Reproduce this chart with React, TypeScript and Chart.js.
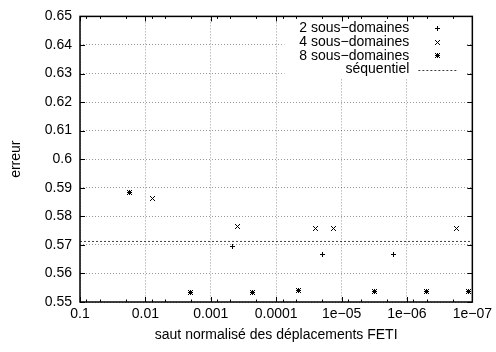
import React, { useEffect, useRef } from 'react';
import { Chart, registerables } from 'chart.js';

Chart.register(...registerables);

const FONT = '"Liberation Sans", Arial, Helvetica, sans-serif';

// Normalized FETI displacement jump (x) against error (y) for each decomposition
const jump2 = [4.6e-4, 1.95e-5, 1.62e-6];
const err2 = [0.5694, 0.5667, 0.5667];
const jump4 = [7.9e-3, 3.85e-4, 2.53e-5, 1.33e-5, 1.75e-7];
const err4 = [0.5864, 0.5764, 0.5758, 0.5758, 0.5758];
const jump8 = [1.73e-2, 2.07e-3, 2.27e-4, 4.6e-5, 3.13e-6, 5.1e-7, 1.13e-7];
const err8 = [0.5885, 0.5534, 0.5533, 0.5539, 0.5537, 0.5537, 0.5537];
const sequentialError = 0.5712;

const seriesLabels = ['2 sous−domaines', '4 sous−domaines', '8 sous−domaines', 'séquentiel'];

const xTickValues = [1e-1, 1e-2, 1e-3, 1e-4, 1e-5, 1e-6, 1e-7];
const xTickLabels = ['0.1', '0.01', '0.001', '0.0001', '1e−05', '1e−06', '1e−07'];
const xMinorMantissas = [8, 5, 2];
const yTickValues = [0.55, 0.56, 0.57, 0.58, 0.59, 0.6, 0.61, 0.62, 0.63, 0.64, 0.65];
const yTickLabels = ['0.55', '0.56', '0.57', '0.58', '0.59', '0.6', '0.61', '0.62', '0.63', '0.64', '0.65'];

const toPoints = (xs: number[], ys: number[]) => xs.map((x, i) => ({ x, y: ys[i] }));

// Pixel-drawn point symbols: plus, cross and the combined "boxed" star
function makeMarker(kind: 'plus' | 'cross' | 'star'): HTMLCanvasElement {
  const c = document.createElement('canvas');
  c.width = 7;
  c.height = 7;
  const g = c.getContext('2d')!;
  g.fillStyle = '#000';
  const dot = (x: number, y: number) => g.fillRect(x, y, 1, 1);
  if (kind === 'plus' || kind === 'star') {
    for (let i = 1; i < 6; i++) {
      dot(i, 3);
      dot(3, i);
    }
  }
  if (kind === 'cross' || kind === 'star') {
    for (let i = 1; i < 6; i++) {
      dot(i, i);
      dot(i, 6 - i);
    }
  }
  return c;
}

// Keeps the bitmap symbols crisp when placed on sub-pixel positions
const crispPoints = {
  id: 'crispPoints',
  beforeDatasetsDraw(chart: any) {
    chart.ctx.imageSmoothingEnabled = false;
  },
  afterDatasetsDraw(chart: any) {
    chart.ctx.imageSmoothingEnabled = true;
  },
};

// Legend box, plot frame and inward tick marks drawn over the plot
const framePlugin = {
  id: 'plotFrame',
  afterDraw(chart: any) {
    const { ctx, chartArea: a, scales } = chart;
    const xs = scales.x;
    const ys = scales.y;
    ctx.save();

    // legend
    const boxL = a.right - 188;
    const boxR = a.right - 7;
    ctx.fillStyle = '#fff';
    ctx.fillRect(boxL, a.top, boxR - boxL, 62);
    ctx.font = `14px ${FONT}`;
    ctx.textAlign = 'right';
    ctx.textBaseline = 'middle';
    chart.data.datasets.forEach((ds: any, i: number) => {
      const yy = a.top + 12 + i * 13.7;
      ctx.fillStyle = '#000';
      ctx.fillText(ds.label, a.right - 63, yy);
      if (ds.showLine) {
        ctx.strokeStyle = ds.borderColor;
        ctx.lineWidth = 1;
        ctx.setLineDash(ds.borderDash);
        ctx.beginPath();
        ctx.moveTo(a.right - 54, Math.round(yy) + 0.5);
        ctx.lineTo(a.right - 16, Math.round(yy) + 0.5);
        ctx.stroke();
        ctx.setLineDash([]);
      } else {
        const img = ds.pointStyle as HTMLCanvasElement;
        ctx.drawImage(img, Math.round(a.right - 35 - img.width / 2), Math.round(yy - img.height / 2));
      }
    });

    // frame
    ctx.strokeStyle = '#000';
    ctx.lineWidth = 1.5;
    ctx.strokeRect(a.left, a.top, a.right - a.left, a.bottom - a.top);

    // tick marks
    ctx.lineWidth = 1;
    ctx.beginPath();
    const major = 5;
    const minor = 2.5;
    xTickValues.forEach((v) => {
      const px = Math.round(xs.getPixelForValue(v)) + 0.5;
      ctx.moveTo(px, a.bottom);
      ctx.lineTo(px, a.bottom - major);
      ctx.moveTo(px, a.top);
      ctx.lineTo(px, a.top + major);
      if (v > xTickValues[xTickValues.length - 1]) {
        xMinorMantissas.forEach((m) => {
          const mp = Math.round(xs.getPixelForValue((v / 10) * m)) + 0.5;
          ctx.moveTo(mp, a.bottom);
          ctx.lineTo(mp, a.bottom - minor);
          ctx.moveTo(mp, a.top);
          ctx.lineTo(mp, a.top + minor);
        });
      }
    });
    yTickValues.forEach((v) => {
      const py = Math.round(ys.getPixelForValue(v)) + 0.5;
      ctx.moveTo(a.left, py);
      ctx.lineTo(a.left + major, py);
      ctx.moveTo(a.right, py);
      ctx.lineTo(a.right - major, py);
    });
    ctx.stroke();
    ctx.restore();
  },
};

export default function App() {
  const canvasRef = useRef<HTMLCanvasElement | null>(null);

  useEffect(() => {
    const canvas = canvasRef.current;
    if (!canvas) return;
    const font = { family: FONT, size: 14 };
    const grid = { color: 'rgba(0,0,0,0.4)', lineWidth: 1, drawTicks: false };
    const border = { display: false, dash: [1, 2] };

    const chart = new Chart(canvas, {
      type: 'scatter',
      data: {
        datasets: [
          {
            label: seriesLabels[0],
            data: toPoints(jump2, err2),
            pointStyle: makeMarker('plus'),
            borderColor: '#000',
            backgroundColor: '#000',
          },
          {
            label: seriesLabels[1],
            data: toPoints(jump4, err4),
            pointStyle: makeMarker('cross'),
            borderColor: '#000',
            backgroundColor: '#000',
          },
          {
            label: seriesLabels[2],
            data: toPoints(jump8, err8),
            pointStyle: makeMarker('star'),
            borderColor: '#000',
            backgroundColor: '#000',
          },
          {
            label: seriesLabels[3],
            data: [
              { x: xTickValues[0], y: sequentialError },
              { x: xTickValues[xTickValues.length - 1], y: sequentialError },
            ],
            showLine: true,
            pointRadius: 0,
            borderColor: 'rgba(0,0,0,0.75)',
            borderWidth: 1,
            borderDash: [2, 2],
          } as any,
        ],
      },
      options: {
        responsive: false,
        animation: false,
        devicePixelRatio: 1,
        layout: { padding: { top: 13, right: 22, left: 0, bottom: 0 } },
        plugins: { legend: { display: false }, tooltip: { enabled: false } },
        scales: {
          x: {
            type: 'logarithmic',
            reverse: true,
            min: 1e-7,
            max: 0.1,
            afterBuildTicks: (s: any) => {
              s.ticks = xTickValues.map((v) => ({ value: v }));
            },
            afterFit: (s: any) => {
              s.height = 50;
            },
            ticks: {
              autoSkip: false,
              maxRotation: 0,
              padding: 4,
              color: '#000',
              font,
              callback: (_v: any, i: number) => xTickLabels[i],
            },
            grid,
            border,
            title: {
              display: true,
              text: 'saut normalisé des déplacements FETI',
              color: '#000',
              font,
              padding: { top: 0, bottom: 8 },
            },
          },
          y: {
            min: 0.55,
            max: 0.65,
            afterBuildTicks: (s: any) => {
              s.ticks = yTickValues.map((v) => ({ value: v }));
            },
            afterFit: (s: any) => {
              s.width = 80;
            },
            ticks: {
              autoSkip: false,
              padding: 8,
              color: '#000',
              font,
              callback: (_v: any, i: number) => yTickLabels[i],
            },
            grid,
            border,
            title: {
              display: true,
              text: 'erreur',
              color: '#000',
              font,
              padding: { top: 8, bottom: 0 },
            },
          },
        },
      } as any,
      plugins: [crispPoints, framePlugin],
    });

    return () => chart.destroy();
  }, []);

  return (
    <div style={{ position: 'absolute', left: 0, top: 0, width: 496, height: 352, background: '#fff' }}>
      <canvas ref={canvasRef} width={496} height={352} />
    </div>
  );
}
